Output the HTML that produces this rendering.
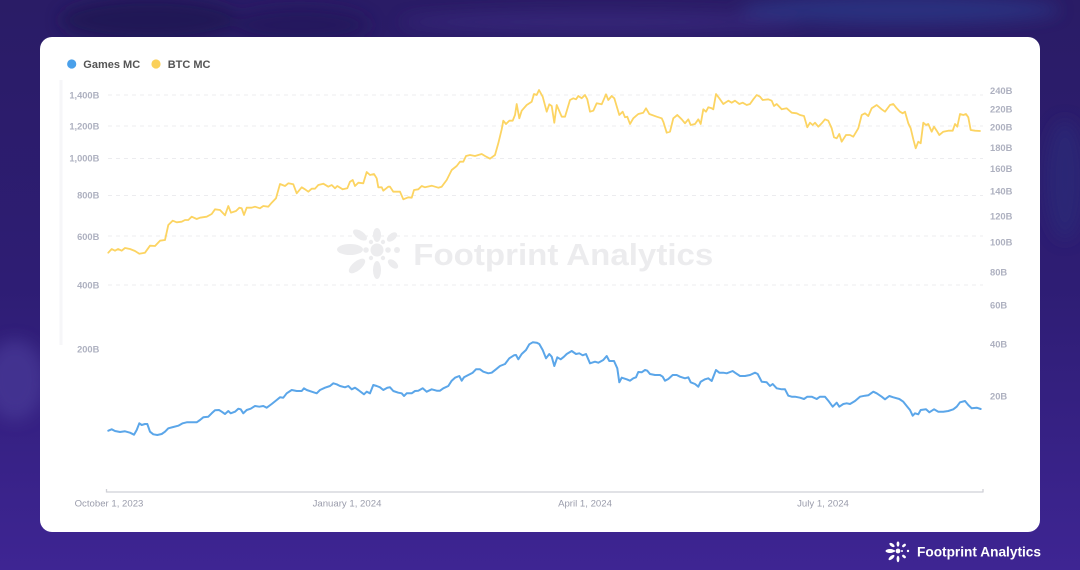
<!DOCTYPE html>
<html>
<head>
<meta charset="utf-8">
<style>
html,body{margin:0;padding:0;}
body{width:1080px;height:570px;overflow:hidden;background:#33207a;font-family:"Liberation Sans",sans-serif;}
svg{display:block;}
</style>
</head>
<body>
<svg width="1080" height="570" viewBox="0 0 1080 570" xmlns="http://www.w3.org/2000/svg">
  <defs>
    <linearGradient id="bg" x1="0" y1="0" x2="0" y2="1">
      <stop offset="0" stop-color="#2a1c66"/>
      <stop offset="0.5" stop-color="#2e1d74"/>
      <stop offset="1" stop-color="#3e2593"/>
    </linearGradient>
    <filter id="blur" x="-50%" y="-50%" width="200%" height="200%">
      <feGaussianBlur stdDeviation="8"/>
    </filter>
  </defs>
  <rect x="0" y="0" width="1080" height="570" fill="url(#bg)"/>
  <!-- blurred background shapes -->
  <g filter="url(#blur)" opacity="0.7">
    <ellipse cx="150" cy="20" rx="90" ry="22" fill="#1f1650"/>
    <ellipse cx="300" cy="25" rx="70" ry="18" fill="#24195a"/>
    <ellipse cx="600" cy="22" rx="200" ry="10" fill="#3a2c80"/>
    <ellipse cx="900" cy="10" rx="160" ry="14" fill="#2a3a8a"/>
    <ellipse cx="15" cy="380" rx="30" ry="40" fill="#4a3a98"/>
    <ellipse cx="1065" cy="180" rx="20" ry="60" fill="#2a2a78"/>
  </g>

  <!-- card -->
  <rect x="40" y="37" width="1000" height="495" rx="12" ry="12" fill="#ffffff"/>
  <line x1="61" y1="80" x2="61" y2="345" stroke="#f6f6f8" stroke-width="3"/>

  <!-- legend -->
  <circle cx="71.7" cy="64" r="4.6" fill="#4aa0ea"/>
  <text x="83.3" y="68" font-family="Liberation Sans, sans-serif" font-weight="bold" font-size="11" fill="#555555">Games MC</text>
  <circle cx="156" cy="64" r="4.6" fill="#fad05a"/>
  <text x="167.7" y="68" font-family="Liberation Sans, sans-serif" font-weight="bold" font-size="11" fill="#555555">BTC MC</text>

  <!-- gridlines -->
  <g stroke="#ececef" stroke-width="1" stroke-dasharray="4,4">
    <line x1="108" y1="95" x2="983" y2="95"/>
    <line x1="108" y1="126" x2="983" y2="126"/>
    <line x1="108" y1="158.5" x2="983" y2="158.5"/>
    <line x1="108" y1="195.5" x2="983" y2="195.5"/>
    <line x1="108" y1="236" x2="983" y2="236"/>
    <line x1="108" y1="285" x2="983" y2="285"/>
  </g>

  <!-- watermark -->
  <g fill="#ececee">
    <ellipse cx="350" cy="249.5" rx="13" ry="5.5"/>
    <ellipse cx="377" cy="235" rx="4" ry="7"/>
    <ellipse cx="377" cy="270" rx="4" ry="9"/>
    <ellipse cx="360" cy="235" rx="8" ry="4" transform="rotate(35 360 235)"/>
    <ellipse cx="357" cy="266" rx="10" ry="4.5" transform="rotate(-40 357 266)"/>
    <ellipse cx="392" cy="237" rx="6" ry="3.5" transform="rotate(-40 392 237)"/>
    <ellipse cx="393" cy="264" rx="6" ry="3.5" transform="rotate(40 393 264)"/>
    <circle cx="377" cy="250" r="6.5"/>
    <circle cx="366" cy="250" r="2.8"/>
    <circle cx="388" cy="250" r="2.8"/>
    <circle cx="397" cy="250" r="3"/>
    <circle cx="371" cy="242" r="2.2"/>
    <circle cx="383" cy="242" r="2.2"/>
    <circle cx="371" cy="258" r="2.2"/>
    <circle cx="383" cy="258" r="2.2"/>
  </g>
  <text x="413.3" y="265" font-family="Liberation Sans, sans-serif" font-weight="bold" font-size="31" fill="#ececee" textLength="300" lengthAdjust="spacingAndGlyphs">Footprint Analytics</text>

  <!-- left axis labels -->
  <g font-family="Liberation Sans, sans-serif" font-weight="bold" font-size="9.3" fill="#aeb1c0" text-anchor="end">
    <text x="99.3" y="98.3">1,400B</text>
    <text x="99.3" y="129.3">1,200B</text>
    <text x="99.3" y="161.3">1,000B</text>
    <text x="99.3" y="198.3">800B</text>
    <text x="99.3" y="240">600B</text>
    <text x="99.3" y="288.3">400B</text>
    <text x="99.3" y="352.3">200B</text>
  </g>

  <!-- right axis labels -->
  <g font-family="Liberation Sans, sans-serif" font-weight="bold" font-size="9.4" fill="#aeb1c0">
    <text x="990" y="94">240B</text>
    <text x="990" y="112.3">220B</text>
    <text x="990" y="130.3">200B</text>
    <text x="990" y="151">180B</text>
    <text x="990" y="172">160B</text>
    <text x="990" y="194.3">140B</text>
    <text x="990" y="219.3">120B</text>
    <text x="990" y="245.3">100B</text>
    <text x="990" y="275.3">80B</text>
    <text x="990" y="308.3">60B</text>
    <text x="990" y="347.3">40B</text>
    <text x="990" y="399.3">20B</text>
  </g>

  <!-- x axis -->
  <g stroke="#cfd0d6" stroke-width="1.3" fill="none">
    <line x1="106.5" y1="492" x2="983" y2="492"/>
    <line x1="106.5" y1="489" x2="106.5" y2="492.5"/>
    <line x1="983" y1="489" x2="983" y2="492.5"/>
  </g>
  <g font-family="Liberation Sans, sans-serif" font-size="9.6" fill="#9a9cab" text-anchor="middle">
    <text x="109" y="506.3">October 1, 2023</text>
    <text x="347" y="506.3">January 1, 2024</text>
    <text x="585" y="506.3">April 1, 2024</text>
    <text x="823" y="506.3">July 1, 2024</text>
  </g>

  <!-- BTC line -->
  <polyline fill="none" stroke="#fcd462" stroke-width="1.8" stroke-linejoin="round" stroke-linecap="round" points="108.3,252.7 111.7,249 115,250.7 118,249 121.7,250.7 125,248 130,249 135,251 139.3,253.7 145,252.7 150,245.7 155,246 160,240.7 165,240 168.3,225 172.7,220.7 176.7,222.3 181.7,221.7 185,220 188.3,220 191.7,216.7 196.7,219 200,217.7 206.7,216.7 211.7,214 215,209.3 220,210 225,215.3 228.3,206 231,212.7 236,211 239.3,207.7 241.7,208.3 244,215 246.7,207.7 251.7,207.7 255,206.7 260,208.3 263.3,206 268.3,206.7 271.7,202.7 276,198.3 280,184 285,186 288.3,183.3 293.3,184.3 296.7,193.3 301.7,187.3 305,189.3 308.3,191.7 311.7,188.7 315,188.7 318.3,185 323.3,183.7 328.3,186.7 331.7,185 335,188.3 337.3,186 342.7,189.3 347.3,188.3 350,181.7 352.7,180 355,186 358.3,182.7 363.3,183.3 366.7,172 370,175 374,174 376.7,178.3 378.3,187.3 381.7,187.3 383.3,190.7 388.3,186.7 390,186.7 393.3,191.7 400,191.7 403.3,199.3 408.3,197.3 411.7,197.7 414,190 418.3,189.3 421.7,186 425,187.3 431.7,185.7 438.3,187.7 441.7,186.7 446.7,180 451.7,170 456.7,166 460,161.7 463.3,161.7 466,156 470,155 475,156 478.3,155 481.7,154 485,156 490,158.7 495,155 498.3,143.3 501.7,129.3 503.3,120.7 506,124 509.3,120.7 512.7,120.7 515,115 516.7,104 519.3,118.3 521.7,110.7 526.7,105 531.7,101.7 534,94 536.7,95 539,90 542.7,96.7 546.7,111.7 549.3,104.3 551.7,106 554.3,122.7 556.7,105 561.7,116.7 565,116.7 570,100 573.3,98.3 576,99.3 578.3,96 581.7,98.3 585,95 587.3,99.3 590,111.7 593.3,110.7 596.7,103.3 601.7,104.3 606,94.3 608.3,100 611.7,96 614.3,98.3 619.3,115 622.7,111.7 625,117.3 627.3,116.7 630,124 633.3,118.3 638.3,114 643.3,112.7 646,108.3 649.3,114 656.7,116.7 661.7,118.3 663.3,121.7 666.7,132.7 670,131.7 673.3,118.3 677.3,115 681.7,119.3 685,123.3 688.3,119.3 690.7,125 695,124 698.3,119.3 700.7,124 703.3,109.3 706,111.7 708.3,107.3 711.7,108.3 713.3,109.3 716,94 719.3,98.3 723.3,104 728.3,100.7 731.7,102.7 735,100.7 739.3,104 742.7,102.7 746.7,105 750,104 753.3,99.3 756.7,95 760,96.7 762.7,100 768.3,99.3 771.7,100.7 774,106 776.7,104 781.7,109.3 786.7,108.3 791.7,112.7 796.7,113.3 800,115 804,116 807.3,127.3 810,122.7 812.7,125 815,122.7 818.3,126.7 821.7,123.3 825,119.3 828.3,120.7 831.7,128.3 834,137.3 836.7,138.3 839.3,134 841.7,141.7 846,135 850,135 853.3,136.7 858.3,128.3 861.7,115 865,113.3 868.3,116 871.7,108.3 876.7,105 881.7,109.3 885,111.7 890,105 893.3,104 896.7,108.3 900,111.7 902.7,113.3 905,111.7 908.3,123.3 910.7,128.3 913.3,139.3 915.7,148.3 918.3,141.7 920.7,143.3 923.3,122.7 926,125 928.3,124 931.7,131.7 934,126.7 936.7,130.7 939.3,135 943.3,131.7 948.3,130.7 952.7,130.7 955,124 957.3,126.7 960,114 963.3,115 966,114 968.3,117.3 970.7,130 975,130.7 980,131"/>

  <!-- Games line -->
  <polyline fill="none" stroke="#5ba6e9" stroke-width="2" stroke-linejoin="round" stroke-linecap="round" points="108.3,430.7 111.7,429.3 115,431 120,432 125,431.3 130,432.7 134,434.7 136.7,430 139.3,423.3 141.7,425 145,424 147.3,424 150,431.7 153.3,434.3 157.3,435 161.7,434 165,431.7 168.3,428.3 173.3,427 178.3,425.7 182.7,423.3 186.7,422.3 191.7,422.3 196.7,422.3 200,420 203.3,417.3 208.3,416.7 211.7,413.3 215,410.3 219,410 221.7,411.7 225,414 228.3,411 230.7,413.3 235,411.7 238.3,408.7 240.7,409.3 243.3,413.3 246.7,410 250.7,408.7 255,406 259.3,406.7 263.3,406 266.7,407.7 271.7,404 276.7,400 280,397.3 283.3,397.7 286.7,393.3 291.7,390 296.7,391 301.7,391 304,388.3 306.7,390 311.7,391.7 316.7,393.3 320,390 325,387.7 330,386 333.3,383.3 336.7,384.3 340,386 345,387.3 348.3,386 351.7,389.3 355,387.7 358.3,390 364,394.3 366.7,391.7 370,393.3 373.3,385 376.7,386 380,387.3 383.3,390 387.3,387.7 390,387.3 393.3,391 398.3,392.7 401.7,393.3 404,396 406.7,393.3 411.7,393.3 415,391 418.3,390.7 422.7,388.3 426.7,391.7 431.7,389.3 436.7,390.7 440,390.7 443.3,388.3 448.3,386 451.7,380.7 455,377.7 459.3,376 461.7,380.7 464,377.3 468.3,375 472.7,372.7 476,369.3 480,369.3 483.3,371.7 488.3,373.3 491.7,372.7 496,369.3 500,366 505,364 509.3,358.3 514,355.3 516,355 518.3,359.3 521.7,354 526,350 529.3,344.3 532.7,342.3 536.7,342.7 539.3,344 542.7,350 546,358.3 549.3,354 551.7,356.7 554.3,366 557.3,357.3 560.7,359.3 564,356.7 566.7,354 571.7,351 576,354 579.3,353.3 582.7,355.3 586,354 590,363.3 595,361.7 598.3,362.7 603.3,360 606.7,356 609.3,361 614,361 617.3,368.3 619.3,382.3 621.7,377.7 626.7,379.3 630,380.7 633.3,378.3 636,377.3 638.3,372 641.7,372.3 645,370 647.3,370.7 650,374 655,375 660,375 662.7,376.7 665,380.7 668.3,379 672.7,375 676.7,375 680,376.7 685,378.3 688.3,377.3 690.7,382.3 695,384 698.3,386.7 700.7,381.7 705,379.3 708.3,378.3 711.7,381 716,370 719.3,372.7 723.3,372.7 726.7,373.3 732.7,371 735,372.7 740,376 745,376 750,375 755,372.7 757.7,374 761.7,381.7 766.7,382.3 770,386 772.7,384 776.7,388.3 781.7,389.3 785,389.3 788.3,395.7 791.7,396.7 795,396.7 800,397.7 804,399 807.3,396.7 811.7,396.7 816.7,399 820,396.7 825,396.7 828.3,400.7 832.7,406.7 836.7,402.7 839.3,406.7 843.3,404 846.7,403.3 850,404 855,401 860,396.7 865,395.7 868.3,395.3 873.3,391.7 876.7,393.3 881.7,396.7 885,399.3 889.3,396 893.3,397.3 899.3,399 903.3,401.7 907.3,406.7 910,410 912.7,415.7 915,413.3 918.3,414.3 920.7,410 926,409.3 929.3,412.3 934,409.3 938.3,411.7 943.3,411.7 948.3,411 953.3,409.3 956.7,406.7 960,402.3 965,401 968.3,405 971.7,408.3 976.7,407.7 980.7,409"/>

  <!-- bottom-right logo -->
  <g fill="#ffffff">
    <ellipse cx="890" cy="551" rx="4.5" ry="2"/>
    <ellipse cx="898" cy="544" rx="1.4" ry="2.6"/>
    <ellipse cx="898" cy="559" rx="1.4" ry="3.2"/>
    <ellipse cx="892" cy="545" rx="3" ry="1.5" transform="rotate(35 892 545)"/>
    <ellipse cx="891.5" cy="557.5" rx="3.6" ry="1.6" transform="rotate(-40 891.5 557.5)"/>
    <ellipse cx="904" cy="545.5" rx="2.2" ry="1.3" transform="rotate(-40 904 545.5)"/>
    <ellipse cx="904" cy="556.5" rx="2.2" ry="1.3" transform="rotate(40 904 556.5)"/>
    <circle cx="898" cy="551" r="2.4"/>
    <circle cx="894" cy="551" r="1"/>
    <circle cx="902" cy="551" r="1"/>
    <circle cx="908" cy="551" r="1.2"/>
  </g>
  <text x="917" y="556.5" font-family="Liberation Sans, sans-serif" font-weight="bold" font-size="13.5" fill="#ffffff" textLength="124" lengthAdjust="spacingAndGlyphs">Footprint Analytics</text>
</svg>
</body>
</html>
